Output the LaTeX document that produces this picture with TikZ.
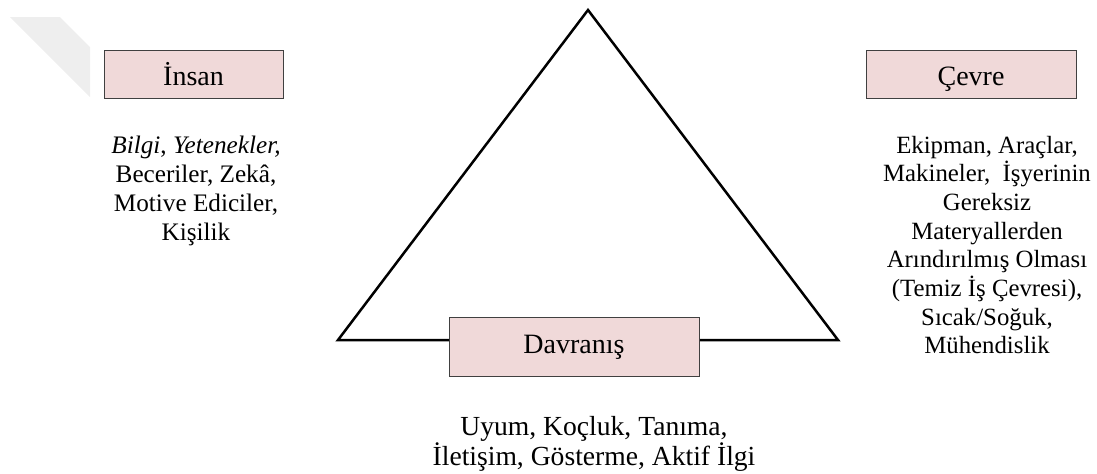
\documentclass[tikz,border=0pt]{standalone}
\usepackage{fontspec}
\setmainfont{Liberation Serif}
\usepackage{tikz}
\usetikzlibrary{positioning}
\definecolor{boxpink}{RGB}{240, 217, 217}
\definecolor{markgray}{RGB}{238, 238, 238}

\begin{document}
\begin{tikzpicture}[x=0.5pt, y=-0.5pt,
    factor/.style={draw=black!75, line width=0.5pt, fill=boxpink, minimum width=89.5pt, minimum height=24pt, inner sep=0pt, text height=12pt, text depth=1pt, font=\fontsize{14}{16}\selectfont},
    desc/.style={align=center, inner sep=0pt, font=\fontsize{12.6}{14.4}\selectfont}]
  \useasboundingbox (0,0) rectangle (1097,473);
  % faint mark at top left
  \fill[markgray] (10,17) -- (60,17) -- (90,47) -- (90,97) -- cycle;
  % triangle
  \coordinate (apex) at (588,10);
  \coordinate (left) at (338,340);
  \coordinate (right) at (838,340);
  \draw[line width=1.25pt, line join=miter] (left) -- (apex) -- (right) -- cycle;
  % corners
  \node[factor] (insan) at (193.5,74) {İnsan};
  \node[factor, minimum width=105pt] (cevre) at (971,74.5) {Çevre};
  \node[factor, minimum width=125pt, minimum height=29.5pt, text height=9pt, text depth=2.5pt] (davranis) at (574,346.5) {Davranış};
  % descriptions
  \node[desc] (insantext) at (196,191) {\textit{Bilgi}, \textit{Yetenekler,}\\ Beceriler, Zekâ,\\ Motive Ediciler,\\ Kişilik};
  \node[desc, font=\fontsize{12.4}{14.35}\selectfont] (cevretext) at (987,245) {Ekipman, Araçlar,\\ Makineler,~ İşyerinin\\ Gereksiz\\ Materyallerden\\ Arındırılmış Olması\\ (Temiz İş Çevresi),\\ Sıcak/Soğuk,\\ Mühendislik};
  \node[desc, font=\fontsize{13.8}{15}\selectfont] (davranistext) at (594,444) {Uyum, Koçluk, Tanıma,\\ İletişim, Gösterme, Aktif İlgi};
\end{tikzpicture}
\end{document}
